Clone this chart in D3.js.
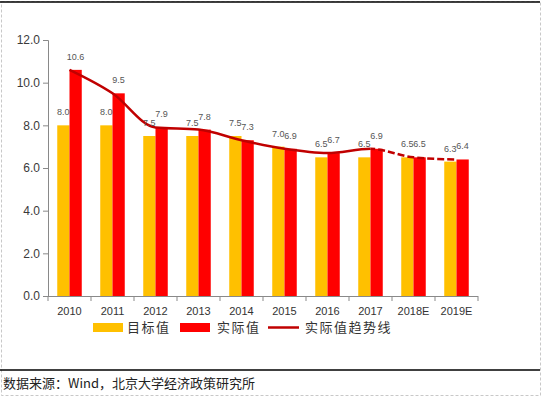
<!DOCTYPE html>
<html>
<head>
<meta charset="utf-8">
<script src="https://cdn.jsdelivr.net/npm/d3@7"></script>
<style>
  body { margin: 0; background: #fff; }
  text { font-family: "Liberation Sans", Arial, sans-serif; }
  .cjk { font-family: "Noto Sans CJK SC", sans-serif; }
</style>
</head>
<body>
<div id="chart"></div>
<script>
// Data
let years = ["2010", "2011", "2012", "2013", "2014", "2015", "2016", "2017", "2018E", "2019E"]
let targetValues = [8.0, 8.0, 7.5, 7.5, 7.5, 7.0, 6.5, 6.5, 6.5, 6.3]
let actualValues = [10.6, 9.5, 7.9, 7.8, 7.3, 6.9, 6.7, 6.9, 6.5, 6.4]
let yTicks = [0, 2, 4, 6, 8, 10, 12]
let legendNames = ["目标值", "实际值", "实际值趋势线"]
let sourceText = "数据来源：Wind，北京大学经济政策研究所"

let width = 545
let height = 399
let yellow = "#FFC000"
let red = "#FF0000"
let darkRed = "#C00000"

const svg = d3.select("#chart")
    .append("svg")
    .attr("width", width)
    .attr("height", height)

// Frame: dashed grey border, black rule on top and above the source
svg.append("rect")
    .attr("x", 1.5).attr("y", 1.5)
    .attr("width", 539).attr("height", 394)
    .attr("fill", "none")
    .attr("stroke", "#c8c8c8")
    .attr("stroke-dasharray", "3,2")
svg.append("line")
    .attr("x1", 0).attr("x2", 540).attr("y1", 2).attr("y2", 2)
    .attr("stroke", "#000").attr("stroke-width", 1.5)
svg.append("line")
    .attr("x1", 0).attr("x2", 540).attr("y1", 370).attr("y2", 370)
    .attr("stroke", "#000").attr("stroke-width", 1.5)

// Scales
let x = d3.scaleBand().domain(years).range([48, 478])
let y = d3.scaleLinear().domain([0, 12]).range([296, 40])
let barW = x.bandwidth() * 0.285

// Y axis
const yAxis = d3.axisLeft(y).tickValues(yTicks).tickFormat(d3.format(".1f")).tickSizeOuter(0).tickSize(5)
const gy = svg.append("g").attr("transform", "translate(48,0)").call(yAxis)
gy.select(".domain").attr("stroke", "#898989")
gy.selectAll(".tick line").attr("stroke", "#898989")
gy.selectAll(".tick text").attr("font-size", 12).attr("fill", "#3a3a3a").attr("x", -8)

// Bars
let bars = svg.append("g")
bars.selectAll(".target")
    .data(years)
    .enter()
    .append("rect")
    .attr("class", "target")
    .attr("x", d => x(d) + x.bandwidth() / 2 - barW)
    .attr("y", (d, i) => y(targetValues[i]))
    .attr("width", barW)
    .attr("height", (d, i) => y(0) - y(targetValues[i]))
    .attr("fill", yellow)
bars.selectAll(".actual")
    .data(years)
    .enter()
    .append("rect")
    .attr("class", "actual")
    .attr("x", d => x(d) + x.bandwidth() / 2)
    .attr("y", (d, i) => y(actualValues[i]))
    .attr("width", barW)
    .attr("height", (d, i) => y(0) - y(actualValues[i]))
    .attr("fill", red)

// X axis (ticks on band edges)
let edges = years.map(d => x(d)).concat([x.range()[1]])
const gx = svg.append("g")
gx.append("line")
    .attr("x1", 48).attr("x2", 478).attr("y1", 296.5).attr("y2", 296.5)
    .attr("stroke", "#898989")
gx.selectAll(".xt")
    .data(edges)
    .enter()
    .append("line")
    .attr("x1", d => d).attr("x2", d => d)
    .attr("y1", 296).attr("y2", 301)
    .attr("stroke", "#898989")
gx.selectAll(".xl")
    .data(years)
    .enter()
    .append("text")
    .attr("x", d => x(d) + x.bandwidth() / 2)
    .attr("y", 315)
    .attr("text-anchor", "middle")
    .attr("font-size", 11)
    .attr("fill", "#333")
    .text(d => d)

// Trend line: solid until 2017, dashed after
let line = d3.line()
    .x((d, i) => x(years[i]) + x.bandwidth() / 2)
    .y(d => y(d))
    .curve(d3.curveMonotoneX)
let splitX = x("2017") + x.bandwidth() / 2
let defs = svg.append("defs")
defs.append("clipPath").attr("id", "clipSolid")
    .append("rect").attr("x", 0).attr("y", 0).attr("width", splitX).attr("height", height)
defs.append("clipPath").attr("id", "clipDash")
    .append("rect").attr("x", splitX).attr("y", 0).attr("width", width - splitX).attr("height", height)
svg.append("path")
    .attr("d", line(actualValues))
    .attr("fill", "none")
    .attr("stroke", darkRed)
    .attr("stroke-width", 2.5)
    .attr("clip-path", "url(#clipSolid)")
svg.append("path")
    .attr("d", line(actualValues))
    .attr("fill", "none")
    .attr("stroke", darkRed)
    .attr("stroke-width", 2.5)
    .attr("stroke-dasharray", "7,3")
    .attr("clip-path", "url(#clipDash)")

// Data labels
let labels = svg.append("g").attr("font-size", 9).attr("fill", "#555").attr("text-anchor", "middle")
labels.selectAll(".tl")
    .data(years)
    .enter()
    .append("text")
    .attr("x", d => x(d) + x.bandwidth() / 2 - barW / 2)
    .attr("y", (d, i) => y(targetValues[i]) - 10)
    .text((d, i) => d3.format(".1f")(targetValues[i]))
labels.selectAll(".al")
    .data(years)
    .enter()
    .append("text")
    .attr("x", d => x(d) + x.bandwidth() / 2 + barW / 2)
    .attr("y", (d, i) => y(actualValues[i]) - 10)
    .text((d, i) => d3.format(".1f")(actualValues[i]))

// Legend
let legend = svg.append("g").attr("id", "legend")
legend.append("rect").attr("x", 93).attr("y", 323).attr("width", 30).attr("height", 9).attr("fill", yellow)
legend.append("rect").attr("x", 180).attr("y", 323).attr("width", 30).attr("height", 9).attr("fill", red)
legend.append("line").attr("x1", 268).attr("x2", 299).attr("y1", 327.5).attr("y2", 327.5)
    .attr("stroke", darkRed).attr("stroke-width", 2.5)
let legendX = [127, 217, 305]
legend.selectAll("text")
    .data(legendNames)
    .enter()
    .append("text")
    .attr("class", "cjk")
    .attr("x", (d, i) => legendX[i])
    .attr("y", 332)
    .attr("font-size", 13)
    .attr("letter-spacing", 1.5)
    .attr("fill", "#333")
    .text(d => d)

// Source
svg.append("text")
    .attr("class", "cjk")
    .attr("x", 3)
    .attr("y", 388)
    .attr("font-size", 13)
    .attr("fill", "#222")
    .text(sourceText)
</script>
</body>
</html>
